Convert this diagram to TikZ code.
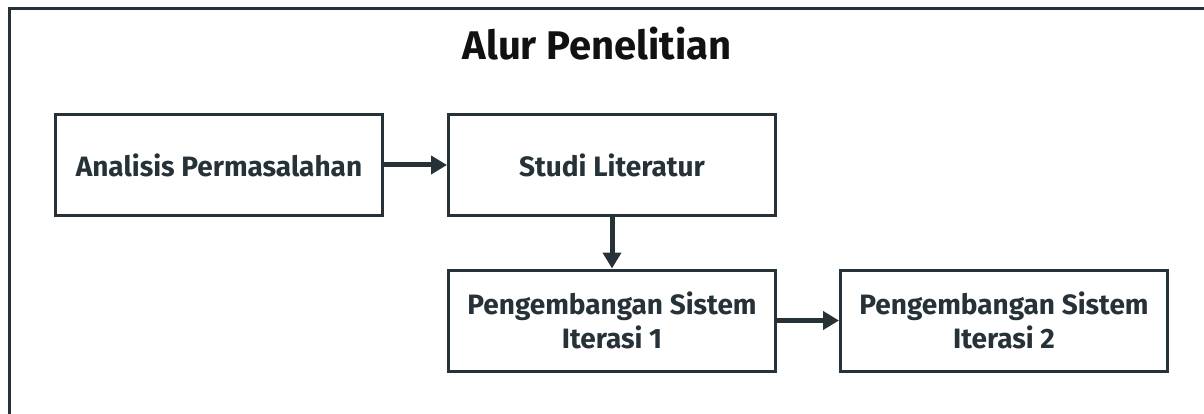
\documentclass[tikz,border=0pt]{standalone}
\usepackage{fontspec}
\setmainfont{Fira Sans}
\usetikzlibrary{arrows.meta}
\definecolor{ink}{HTML}{263238}
\definecolor{titleink}{HTML}{111111}
\tikzset{
  stage/.style={draw=ink, line width=3pt, fill=white, minimum width=327pt,
    minimum height=101pt, inner sep=0pt, align=center, text=ink,
    font=\fontsize{28}{34}\selectfont\bfseries},
  flow/.style={draw=ink, line width=5pt, -{Triangle[length=16pt,width=18pt]}},
  frame/.style={draw=ink, line width=3pt}
}
\begin{document}
\begin{tikzpicture}[x=1pt,y=-1pt]
  \useasboundingbox (0,0) rectangle (1204,414);
  \clip (0,0) rectangle (1204,414);
  % outer frame, running past the right and bottom edges
  \draw[frame] (9.5,430) -- (9.5,8.5) -- (1220,8.5);
  % heading
  \node[text=titleink, font=\fontsize{40}{42}\selectfont\bfseries] (title) at (597,44) {Alur Penelitian};
  % stages
  \node[stage] (analisis) at (219,165) {Analisis Permasalahan};
  \node[stage] (studi) at (612,165) {Studi Literatur};
  \node[stage] (iter1) at (612,320.5) {Pengembangan Sistem\\Iterasi 1};
  \node[stage] (iter2) at (1004,320.5) {Pengembangan Sistem\\Iterasi 2};
  % flow between stages
  \draw[flow] (analisis.east) -- (studi.west);
  \draw[flow] (studi.south) -- (iter1.north);
  \draw[flow] (iter1.east) -- (iter2.west);
\end{tikzpicture}
\end{document}
